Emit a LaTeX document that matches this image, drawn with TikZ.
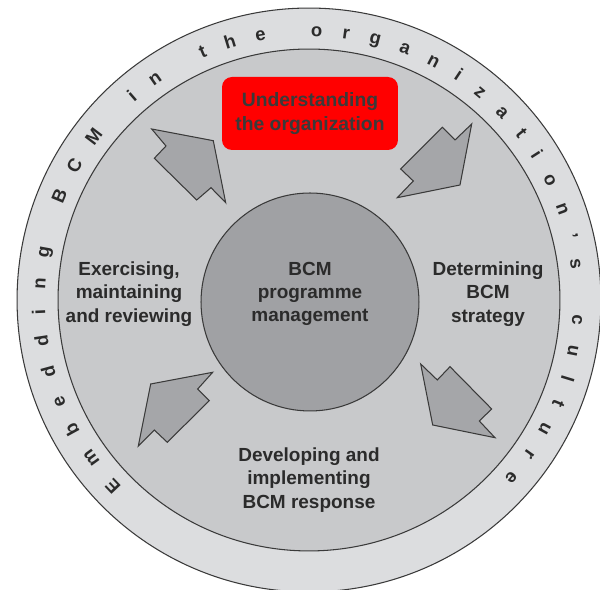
\documentclass[tikz,border=0pt]{standalone}
\usepackage{fontspec}
\setmainfont{Liberation Sans}
\usetikzlibrary{positioning, decorations.text}

\definecolor{ringout}{HTML}{DCDDDF}
\definecolor{ringmid}{HTML}{C8C9CB}
\definecolor{corefill}{HTML}{A0A1A4}
\definecolor{arrowfill}{HTML}{A5A6A9}
\definecolor{edgegray}{HTML}{3A3A3A}
\definecolor{labelgray}{HTML}{2B2B2B}

\begin{document}
\begin{tikzpicture}[x=0.02cm, y=0.02cm,
  phase/.style={align=center, text=labelgray, font=\bfseries\fontsize{10.8}{13.3}\selectfont},
  disc/.style={draw=edgegray, line width=0.6pt},
  block/.style={draw=edgegray, fill=arrowfill, line width=0.6pt}]
\useasboundingbox (-309,-290) rectangle (291,300);
\draw[disc, fill=ringout] (0,0) circle[radius=5.84cm];
\draw[disc, fill=ringmid] (0,0) circle[radius=5.02cm];
\draw[disc, fill=corefill] (1,-2) circle[radius=2.18cm];
\path[decorate, decoration={text along path, text color=labelgray,
  text={|\bfseries\fontsize{10.5}{10.5}\selectfont|Embedding BCM in the organization's culture},
  text align=fit to path}]
  (224.8:5.28cm) arc[start angle=224.8, end angle=-42.3, radius=5.28cm];
\node[phase] (core) at (1,6) {BCM\\programme\\management};
\node[phase, fill=red, rounded corners=0.2cm, minimum width=3.52cm, minimum height=1.46cm,
  text=edgegray, font=\bfseries\fontsize{11}{14}\selectfont] (under) at (1,186.5) {Understanding\\the organization};
\node[phase] (strat) at (179,6) {Determining\\BCM\\strategy};
\node[phase] (resp) at (0,-180) {Developing and\\implementing\\BCM response};
\node[phase] (exer) at (-180,6) {Exercising,\\maintaining\\and reviewing};
% block arrows, clockwise
\draw[block] (-95.7,159.3) -- (-157.3,171) -- (-143,154) -- (-154.7,141.7) -- (-112.3,100) -- (-98,112.3) -- (-83.3,97.3) -- cycle;
\draw[block] (151,115) -- (88.3,102.3) -- (104.3,119) -- (91.7,131) -- (133.3,172.7) -- (146,160) -- (162.7,176) -- cycle;
\draw[block] (123.7,-125) -- (111.7,-64) -- (128.3,-80) -- (141,-66.7) -- (182.7,-109) -- (170.3,-121) -- (186,-137.7) -- cycle;
\draw[block] (-158.3,-84) -- (-96.3,-72.3) -- (-111.3,-89) -- (-99.7,-100.7) -- (-141.7,-142.3) -- (-154.7,-130) -- (-170.7,-146) -- cycle;
\end{tikzpicture}
\end{document}
